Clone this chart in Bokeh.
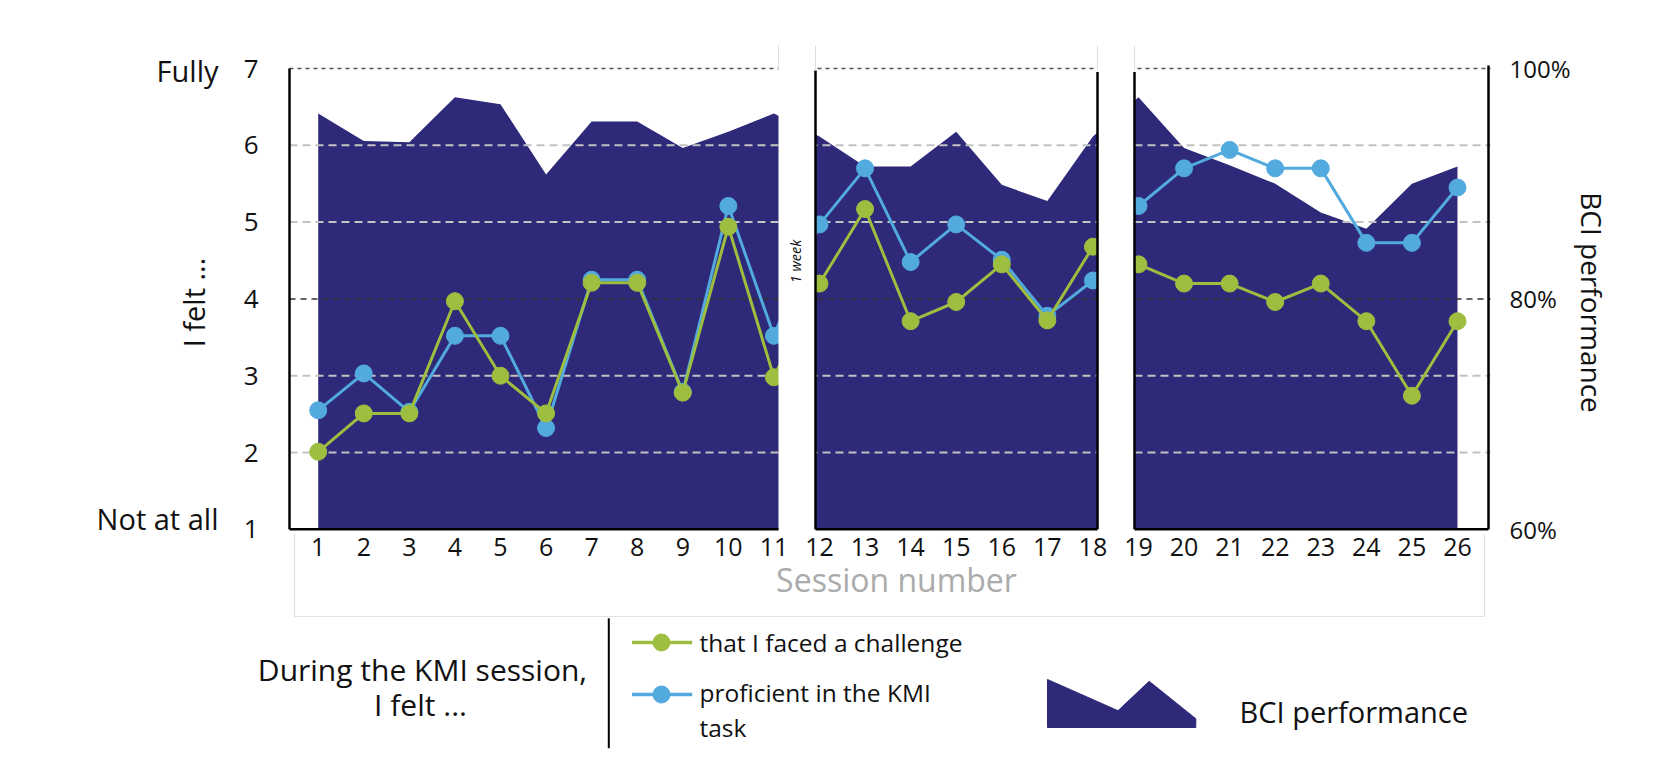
import math
from bokeh.plotting import figure
from bokeh.models import Range1d, LinearAxis, FixedTicker, PrintfTickFormatter
from bokeh.embed import file_html
from bokeh.resources import INLINE
from bokeh.core.properties import value

FONT = "Open Sans"
NAVY = "#2e2979"
GREEN = "#9dbe3f"
BLUE = "#52aade"
INK = "#111111"

# ---------------- data ----------------
sessions = list(range(1, 27))
challenge = [2.01, 2.51, 2.51, 3.97, 3.00, 2.51, 4.21, 4.21, 2.78, 4.94, 2.98,
             4.20, 5.17, 3.71, 3.96, 4.45, 3.72, 4.68,
             4.45, 4.20, 4.20, 3.96, 4.20, 3.71, 2.74, 3.71]
proficient = [2.55, 3.03, 2.53, 3.52, 3.52, 2.32, 4.25, 4.25, 2.79, 5.21, 3.52,
              4.97, 5.70, 4.48, 4.97, 4.51, 3.78, 4.24,
              5.21, 5.70, 5.94, 5.70, 5.70, 4.73, 4.73, 5.45]
bci_perf = [96.1, 93.7, 93.6, 97.5, 96.9, 90.8, 95.4, 95.4, 93.1, 94.5, 96.1,
            94.1, 91.5, 91.5, 94.5, 89.9, 88.5, 94.1,
            97.5, 93.1, 91.6, 90.0, 87.5, 86.1, 90.0, 91.5]
y_levels = [1, 2, 3, 4, 5, 6, 7]
light_grid = [2, 3, 5, 6]
dark_grid = [4]
top_grid = [7]
perf_ticks = [60, 80, 100]
series_names = ["that I faced a challenge", "proficient in the KMI", "task"]
x_title = "Session number"
y_title = "I felt ..."
y2_title = "BCI performance"
scale_ends = ["Fully", "Not at all"]
legend_title = ["During the KMI session,", "I felt ..."]

# ---------------- layout helpers (canvas pixel -> data) ----------------
PXU = 45.571   # px per session
PYU = 76.81    # px per rating level
W, H = 1640, 750


def X(px):
    return 0.37 + (px - 289.0) / PXU


def Y(py):
    return 7.0 - (py - 68.0) / PYU


def lvl_to_perf(v):
    return 60 + (v - 1) * 20.0 / 3.0


panels = [(0.37, X(778)), (X(815), X(1097)), (X(1134), X(1488))]
gaps = [(X(778), X(815)), (X(1097), X(1134))]

p = figure(width=W, height=H, x_range=Range1d(X(0), X(W)), y_range=Range1d(Y(H), Y(0)),
           output_backend="svg", toolbar_location=None, min_border=0)
p.extra_y_ranges = {"perf": Range1d(lvl_to_perf(Y(H)), lvl_to_perf(Y(0)))}
p.outline_line_color = None
p.xgrid.visible = False
p.ygrid.visible = False

# x axis (sessions) fixed on the baseline
xa = p.xaxis[0]
xa.fixed_location = 1
xa.ticker = FixedTicker(ticks=sessions)
xa.axis_line_color = None
xa.major_tick_line_color = None
xa.minor_tick_line_color = None
xa.major_tick_out = 0
xa.major_tick_in = 0
xa.major_label_standoff = 9
xa.major_label_text_font = FONT
xa.major_label_text_font_size = "25px"
xa.major_label_text_color = INK

# left axis (rating 1-7)
ya = p.yaxis[0]
ya.fixed_location = 0.37
ya.ticker = FixedTicker(ticks=y_levels)
ya.axis_line_color = None
ya.major_tick_line_color = None
ya.minor_tick_line_color = None
ya.major_tick_out = 0
ya.major_tick_in = 0
ya.major_label_standoff = 31
ya.major_label_text_font = FONT
ya.major_label_text_font_size = "26px"
ya.major_label_text_color = INK

# right axis (BCI performance)
ra = LinearAxis(y_range_name="perf", ticker=FixedTicker(ticks=perf_ticks),
                formatter=PrintfTickFormatter(format="%d%%"), fixed_location=X(1488))
ra.axis_line_color = None
ra.major_tick_line_color = None
ra.minor_tick_line_color = None
ra.major_tick_out = 0
ra.major_tick_in = 0
ra.major_label_standoff = 21
ra.major_label_text_font = FONT
ra.major_label_text_font_size = "24px"
ra.major_label_text_color = INK
p.add_layout(ra, "right")

# BCI performance area
p.varea(x=sessions, y1=60, y2=bci_perf, y_range_name="perf", fill_color=NAVY)

# dashed guide lines
gx0, gx1 = 0.37, X(1490)
p.segment(x0=gx0, x1=gx1, y0=light_grid, y1=light_grid, line_color="#c2c2c2", line_width=2, line_dash="8 5")
p.segment(x0=gx0, x1=gx1, y0=dark_grid, y1=dark_grid, line_color="#333333", line_width=1.5, line_dash="6 5")
p.segment(x0=gx0, x1=gx1, y0=top_grid, y1=top_grid, line_color="#555555", line_width=1.5, line_dash="4 4")

# series
p.line(sessions, proficient, line_color=BLUE, line_width=3)
p.scatter(sessions, proficient, size=17, fill_color=BLUE, line_color=BLUE)
p.line(sessions, challenge, line_color=GREEN, line_width=3)
p.scatter(sessions, challenge, size=17, fill_color=GREEN, line_color=GREEN)

# white gaps between the three blocks of sessions
p.quad(left=[g[0] for g in gaps], right=[g[1] for g in gaps], bottom=Y(534), top=Y(40),
       fill_color="white", line_color=None)

# panel frame lines
p.segment(x0=[pa[0] for pa in panels], x1=[pa[1] for pa in panels], y0=1, y1=1,
          line_color="black", line_width=2.5)
vx = [0.37, X(815), X(1097), X(1134), X(1488)]
vtop = [7.0, Y(70), Y(71.5), Y(71.5), Y(65)]
p.segment(x0=vx, x1=vx, y0=1, y1=vtop, line_color="black", line_width=2.5)
ex = [X(778), X(815), X(1097), X(1134)]
p.segment(x0=ex, x1=ex, y0=Y(70), y1=Y(45), line_color="#dddddd", line_width=1)

# faint frame around the session-number area
p.segment(x0=[X(294), X(294), X(1484)], x1=[X(294), X(1484), X(1484)],
          y0=[Y(533), Y(616), Y(616)], y1=[Y(616), Y(616), Y(533)],
          line_color="#e2e2e2", line_width=1.2)

# axis titles and scale end labels
p.text(x=[X(218), X(218)], y=[Y(70), Y(518)], text=scale_ends, text_align="right",
       text_baseline="middle", text_font=value(FONT), text_font_size="29px", text_color=INK)
p.text(x=[X(193)], y=[Y(302)], text=[y_title], angle=math.pi / 2, text_align="center",
       text_baseline="middle", text_font=value(FONT), text_font_size="29px", text_color=INK)
p.text(x=[X(1591)], y=[Y(302)], text=[y2_title], angle=-math.pi / 2, text_align="center",
       text_baseline="middle", text_font=value(FONT), text_font_size="28px", text_color=INK)
p.text(x=[X(896)], y=[Y(579)], text=[x_title], text_align="center",
       text_baseline="middle", text_font=value(FONT), text_font_size="32px", text_color="#ababab")
p.text(x=[X(795)], y=[Y(261)], text=["1 week"], angle=math.pi / 2, text_align="center",
       text_baseline="middle", text_font=value(FONT), text_font_size="14.5px",
       text_font_style="italic", text_color=INK)

# ---------------- legend ----------------
p.text(x=[X(422), X(420)], y=[Y(668.5), Y(704.4)], text=legend_title,
       text_align="center", text_baseline="middle", text_font=value(FONT),
       text_font_size="30px", text_color=INK)
p.segment(x0=[X(608.3)], y0=[Y(617.8)], x1=[X(608.3)], y1=[Y(747.7)], line_color="black", line_width=2)
p.segment(x0=[X(631.5)] * 2, x1=[X(691.7)] * 2, y0=[Y(642), Y(694)], y1=[Y(642), Y(694)],
          line_color=[GREEN, BLUE], line_width=3.5)
p.scatter(x=[X(661)] * 2, y=[Y(642), Y(694)], size=17, fill_color=[GREEN, BLUE], line_color=[GREEN, BLUE])
p.text(x=[X(699)] * 3, y=[Y(642), Y(691.7), Y(726.6)], text=series_names,
       text_align="left", text_baseline="middle", text_font=value(FONT),
       text_font_size="24.5px", text_color=INK)
p.patch(x=[X(1047), X(1117.5), X(1148.7), X(1195.3), X(1195.3), X(1047)],
        y=[Y(679), Y(710.2), Y(680.8), Y(718.2), Y(727), Y(727)],
        fill_color=NAVY, line_color=NAVY)
p.text(x=[X(1239)], y=[Y(710.8)], text=[y2_title], text_align="left", text_baseline="middle",
       text_font=value(FONT), text_font_size="29px", text_color=INK)

open("out.html", "w").write(file_html(p, INLINE))
